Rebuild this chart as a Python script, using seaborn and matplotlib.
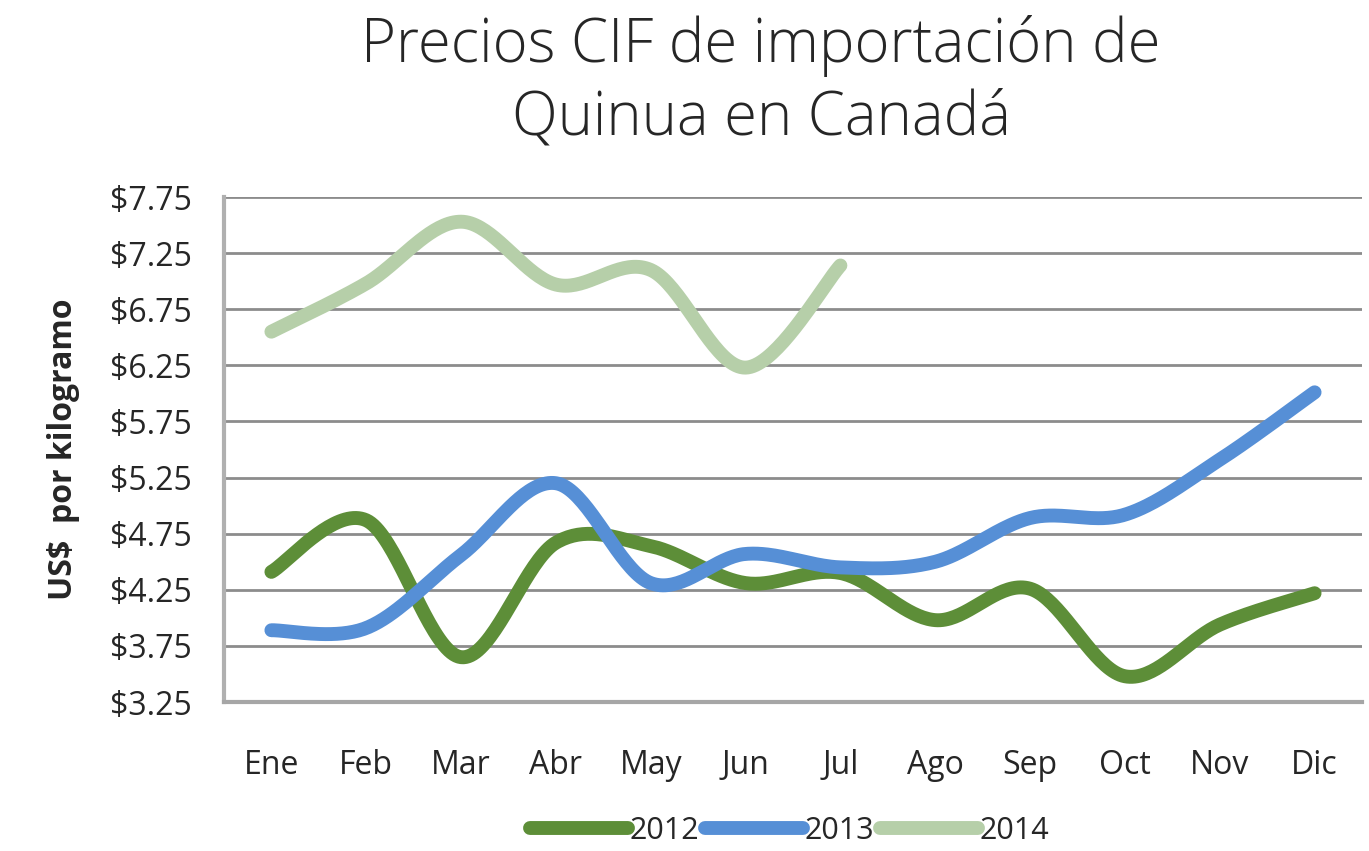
import numpy as np
import pandas as pd
import matplotlib
matplotlib.use("Agg")
import matplotlib.pyplot as plt
import seaborn as sns

meses = ["Ene", "Feb", "Mar", "Abr", "May", "Jun", "Jul", "Ago", "Sep", "Oct", "Nov", "Dic"]
precios_2012 = [4.41, 4.87, 3.65, 4.67, 4.64, 4.31, 4.40, 3.98, 4.26, 3.48, 3.94, 4.22]
precios_2013 = [3.89, 3.91, 4.56, 5.20, 4.31, 4.57, 4.45, 4.50, 4.89, 4.92, 5.41, 6.01]
precios_2014 = [6.55, 6.98, 7.53, 6.97, 7.10, 6.23, 7.14]
y_ticks = [3.25, 3.75, 4.25, 4.75, 5.25, 5.75, 6.25, 6.75, 7.25, 7.75]

colores = {"2012": "#5D8E38", "2013": "#568FD6", "2014": "#B6CFA9"}


def suavizar(vals, n=40):
    # curva tipo Excel: bezier con puntos de control (p2 - p0) / 6
    x = np.arange(len(vals), dtype=float)
    y = np.asarray(vals, dtype=float)
    pts = np.column_stack([x, y])
    xs, ys = [], []
    for i in range(len(pts) - 1):
        p0 = pts[max(i - 1, 0)]
        p1 = pts[i]
        p2 = pts[i + 1]
        p3 = pts[min(i + 2, len(pts) - 1)]
        c1 = p1 + (p2 - p0) / 6
        c2 = p2 - (p3 - p1) / 6
        t = np.linspace(0, 1, n)[:, None]
        b = ((1 - t) ** 3) * p1 + 3 * ((1 - t) ** 2) * t * c1 + 3 * (1 - t) * t ** 2 * c2 + t ** 3 * p2
        xs.extend(b[:, 0])
        ys.extend(b[:, 1])
    return xs, ys


frames = []
for anio, vals in [("2012", precios_2012), ("2013", precios_2013), ("2014", precios_2014)]:
    xs, ys = suavizar(vals)
    frames.append(pd.DataFrame({"x": xs, "precio": ys, "anio": anio, "orden": range(len(xs))}))
df = pd.concat(frames, ignore_index=True)

sns.set_style("white")
plt.rcParams["font.family"] = ["Open Sans", "DejaVu Sans"]

fig = plt.figure(figsize=(13.69, 8.51), dpi=100)
ax = fig.add_axes([0.1636, 0.175, 0.8313, 0.5935])

sns.lineplot(data=df, x="x", y="precio", hue="anio", palette=colores, sort=False,
             estimator=None, units="anio", lw=10, solid_capstyle="round", ax=ax)

ax.set_xlim(-0.5, 11.5)
ax.set_ylim(3.25, 7.75)
ax.set_yticks(y_ticks)
ax.set_yticklabels([f"${v:.2f}" for v in y_ticks], fontsize=23)
ax.set_xticks(range(12))
ax.set_xticklabels(meses, fontsize=23)
ax.set_xticks(np.arange(-0.5, 12, 1), minor=True)
ax.tick_params(axis="x", which="major", length=0, pad=34)
ax.tick_params(axis="x", which="minor", length=11, width=2, color="#a6a6a6", direction="out")
ax.tick_params(axis="y", length=9, width=2, color="#8c8c8c", pad=14)
ax.grid(axis="y", color="#8c8c8c", lw=2)
ax.set_axisbelow(True)
for s in ["top", "right"]:
    ax.spines[s].set_visible(False)
ax.spines["left"].set_color("#b0b0b0")
ax.spines["left"].set_linewidth(3)
ax.spines["bottom"].set_color("#a6a6a6")
ax.spines["bottom"].set_linewidth(3)

ax.set_xlabel("")
ax.set_ylabel("US$  por kilogramo", fontsize=23, fontweight="bold", labelpad=22)

ax.legend(loc="center", bbox_to_anchor=(0.497, -0.255), ncol=3, frameon=False,
          fontsize=22, handlelength=3.2, handletextpad=0.05, columnspacing=0.2, title=None)

fig.suptitle("Precios CIF de importación de\nQuinua en Canadá", fontsize=43, fontweight="light",
             x=0.556, y=0.982, linespacing=1.22)

fig.savefig("out.png", dpi=100)
